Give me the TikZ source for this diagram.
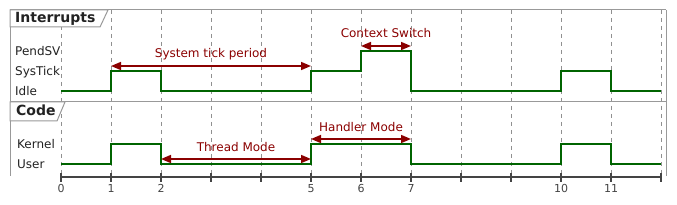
\documentclass[tikz,border=0pt]{standalone}
\usepackage{fontspec}
\setmainfont{DejaVu Sans}
\usetikzlibrary{arrows.meta}
\definecolor{wave}{HTML}{006400}
\definecolor{ann}{HTML}{8B0000}
\definecolor{framec}{HTML}{999999}
\definecolor{gridc}{HTML}{909090}
\definecolor{axisc}{HTML}{444444}
\definecolor{txt}{HTML}{222222}
\begin{document}
\begin{tikzpicture}[x=1pt,y=-1pt,
  lvl/.style={anchor=base west,font=\fontsize{12}{14}\selectfont,text=txt,inner sep=0},
  ttl/.style={anchor=base west,font=\bfseries\fontsize{14}{16}\selectfont,text=txt,inner sep=0},
  wavep/.style={draw=wave,line width=2pt,line join=miter},
  annarr/.style={draw=ann,line width=1.5pt,{Triangle[length=10pt,width=8pt]}-{Triangle[length=10pt,width=8pt]}},
  annlbl/.style={text=ann,font=\fontsize{12}{14}\selectfont,anchor=base,inner sep=0},
  gridl/.style={draw=gridc,line width=0.8pt,dash pattern=on 4pt off 4pt},
  framel/.style={draw=framec,line width=1pt},
  axisl/.style={draw=axisc,line width=2pt},
  ticklbl/.style={text=axisc,font=\fontsize{11}{13}\selectfont,anchor=base,inner sep=0}]
\useasboundingbox (0,0) rectangle (677,205);
\fill[white] (0,0) rectangle (677,205);
% grid
\foreach \k in {0,...,12}{
  \draw[gridl] (61+50*\k,10) -- (61+50*\k,177);
}
% frame
\draw[framel] (10,10) -- (666,10);
\draw[framel] (10,102) -- (666,102);
\draw[framel] (10,10) -- (10,176);
\draw[framel] (666,10) -- (666,176);
% tabs
\filldraw[framel,fill=white] (10,10) -- (108,10) -- (100,27) -- (10,27) -- cycle;
\filldraw[framel,fill=white] (10,102) -- (65,102) -- (57,121) -- (10,121) -- cycle;
\node[ttl] (tint) at (15,23) {Interrupts};
\node[ttl] (tcode) at (16,116) {Code};
% level labels
\node[lvl] (lpend) at (15,56) {PendSV};
\node[lvl] (lsys) at (15,76) {SysTick};
\node[lvl] (lidle) at (15,96) {Idle};
\node[lvl] (lkern) at (17,149) {Kernel};
\node[lvl] (luser) at (17,169) {User};
% waveforms
\draw[wavep] (61,91) -- (111,91) -- (111,71) -- (161,71) -- (161,91) -- (311,91) -- (311,71)
  -- (361,71) -- (361,51) -- (411,51) -- (411,91) -- (561,91) -- (561,71) -- (611,71) -- (611,91) -- (661,91);
\draw[wavep] (61,164) -- (111,164) -- (111,144) -- (161,144) -- (161,164) -- (311,164) -- (311,144)
  -- (411,144) -- (411,164) -- (561,164) -- (561,144) -- (611,144) -- (611,164) -- (661,164);
% annotations
\coordinate (stA) at (111,66); \coordinate (stB) at (311,66);
\coordinate (csA) at (361,46); \coordinate (csB) at (411,46);
\coordinate (tmA) at (161,159); \coordinate (tmB) at (311,159);
\coordinate (hmA) at (311,139); \coordinate (hmB) at (411,139);
\draw[annarr] (stA) -- (stB);
\draw[annarr] (csA) -- (csB);
\draw[annarr] (tmA) -- (tmB);
\draw[annarr] (hmA) -- (hmB);
\node[annlbl] (lst) at (211,57.5) {System tick period};
\node[annlbl] (lcs) at (386,37.5) {Context Switch};
\node[annlbl] (ltm) at (236,152) {Thread Mode};
\node[annlbl] (lhm) at (361,132) {Handler Mode};
% axis
\draw[axisl] (61,177) -- (661,177);
\foreach \k in {0,...,12}{
  \draw[axisl] (61+50*\k,173) -- (61+50*\k,182);
}
\foreach \k in {0,1,2,5,6,7,10,11}{
  \node[ticklbl] (tl\k) at (61+50*\k,193) {\k};
}
\end{tikzpicture}
\end{document}
